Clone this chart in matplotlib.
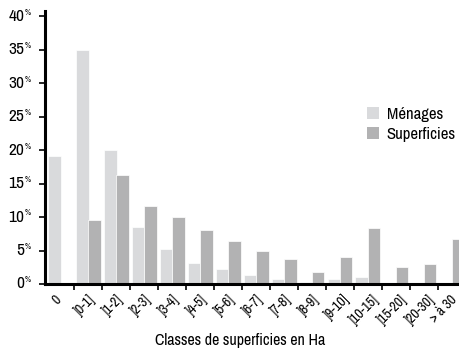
import matplotlib
matplotlib.use("Agg")
import matplotlib.pyplot as plt
from matplotlib import font_manager
from matplotlib.patches import Patch
import numpy as np

# prefer a narrow sans-serif face when one is installed
installed = {f.name for f in font_manager.fontManager.ttflist}
narrow = [n for n in installed if "Narrow" in n or "Condensed" in n]
families = sorted(narrow) + ["Roboto", "DejaVu Sans"]
plt.rcParams['font.family'] = families

categories = ["0", "]0-1]", "]1-2]", "]2-3]", "]3-4]", "]4-5]", "]5-6]", "]6-7]",
              "]7-8]", "]8-9]", "]9-10]", "]10-15]", "]15-20]", "]20-30]", "> à 30"]
menages = [19.2, 35.0, 20.0, 8.5, 5.2, 3.2, 2.2, 1.4, 0.8, 0.3, 0.7, 1.1, 0.0, 0.0, 0.0]
superficies = [0.0, 9.6, 16.3, 11.6, 10.0, 8.1, 6.5, 4.9, 3.8, 1.8, 4.0, 8.4, 2.5, 3.0, 6.8]
yticks = [0, 5, 10, 15, 20, 25, 30, 35, 40]

c_men = "#d9dadc"
c_sup = "#b2b2b3"

fig = plt.figure(figsize=(4.6, 3.5), dpi=100)
ax = fig.add_axes([45 / 460, 66 / 350, 415 / 460, 273 / 350])

x = np.arange(len(categories))
ax.bar(x - 0.215, menages, width=0.45, color=c_men, edgecolor="white", linewidth=0.5)
ax.bar(x + 0.225, superficies, width=0.45, color=c_sup, edgecolor="white", linewidth=0.5)

ax.set_xlim(-0.55, 14.3)
ax.set_ylim(0, 40.8)

for s in ["top", "right"]:
    ax.spines[s].set_visible(False)
for s in ["left", "bottom"]:
    ax.spines[s].set_linewidth(2.2)
    ax.spines[s].set_color("black")

# y ticks with small superscript percent sign
ax.set_yticks(yticks)
ax.set_yticklabels([])
ax.tick_params(axis="y", length=4, width=1.2, direction="out")
for v in yticks:
    ax.annotate(str(v), xy=(0, v), xycoords=("axes fraction", "data"),
                xytext=(-15, 0), textcoords="offset points",
                ha="right", va="center", fontsize=12.5)
    ax.annotate("%", xy=(0, v), xycoords=("axes fraction", "data"),
                xytext=(-15, 3), textcoords="offset points",
                ha="left", va="center", fontsize=6)

# x ticks at category boundaries, labels centred under each category
# (the last one pulled in slightly so it stays inside the figure)
ax.set_xticks(np.arange(0.5, len(categories) - 0.5, 1.0))
ax.set_xticklabels([])
ax.tick_params(axis="x", length=4, width=1.2, direction="out")
for i, lab in enumerate(categories):
    shift = -0.3 if i == len(categories) - 1 else -0.12
    ax.annotate(lab, xy=(i + shift, 0), xycoords=("data", "axes fraction"),
                xytext=(0, -6), textcoords="offset points",
                ha="center", va="top", rotation=45, fontsize=10)

ax.text(0.47, -0.208, "Classes de superficies en Ha", transform=ax.transAxes,
        ha="center", va="center", fontsize=11.5)

handles = [Patch(facecolor=c_men, edgecolor="none"),
           Patch(facecolor=c_sup, edgecolor="none")]
ax.legend(handles, ["Ménages", "Superficies"], loc="upper left",
          bbox_to_anchor=(0.775, 0.65), frameon=False, fontsize=12,
          handlelength=0.75, handleheight=0.75, handletextpad=0.45,
          labelspacing=0.3, borderaxespad=0, borderpad=0)

fig.savefig("out.png", dpi=100)
